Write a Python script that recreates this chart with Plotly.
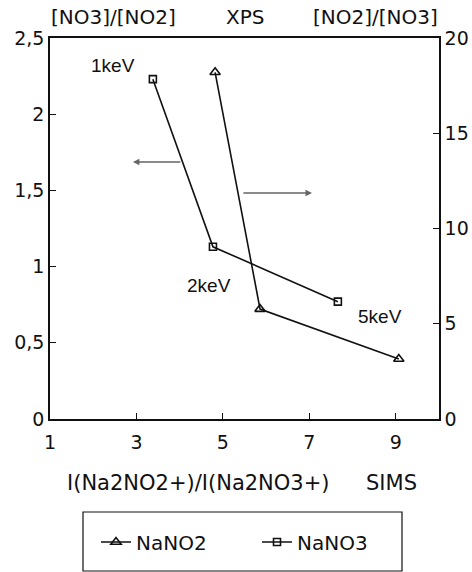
import plotly.graph_objects as go

# Data
nano3_x = [3.38, 4.77, 7.66]
nano3_y = [2.23, 1.13, 0.77]          # left axis [NO3]/[NO2]
nano2_x = [4.82, 5.86, 9.07]
nano2_y = [18.2, 5.77, 3.15]          # right axis [NO2]/[NO3]

x_tickvals = [1, 3, 5, 7, 9]
x_ticktext = ["1", "3", "5", "7", "9"]
left_tickvals = [0, 0.5, 1, 1.5, 2, 2.5]
left_ticktext = ["0", "0,5", "1", "1,5", "2", "2,5"]
right_tickvals = [0, 5, 10, 15, 20]
right_ticktext = ["0", "5", "10", "15", "20"]

energy_labels = ["1keV", "2keV", "5keV"]
energy_x = [2.46, 4.68, 8.64]
energy_y = [2.32, 0.873, 0.67]

FONT = "DejaVu Sans"
BLACK = "#111111"

fig = go.Figure()
fig.add_trace(go.Scatter(
    x=nano2_x, y=nano2_y, yaxis="y2", name="NaNO2", mode="lines+markers",
    line=dict(color=BLACK, width=1.6),
    marker=dict(symbol="triangle-up-open", size=9, color=BLACK, line=dict(width=1.6)),
))
fig.add_trace(go.Scatter(
    x=nano3_x, y=nano3_y, name="NaNO3", mode="lines+markers",
    line=dict(color=BLACK, width=1.6),
    marker=dict(symbol="square-open", size=7, color=BLACK, line=dict(width=1.6)),
))

annotations = []
for t, xx, yy in zip(energy_labels, energy_x, energy_y):
    annotations.append(dict(x=xx, y=yy, xref="x", yref="y", text=t, showarrow=False,
                            font=dict(family="Liberation Sans", size=19, color=BLACK)))

# arrows indicating axes
annotations.append(dict(x=2.92, y=1.686, ax=4.05, ay=1.686, xref="x", yref="y",
                        axref="x", ayref="y", text="", showarrow=True,
                        arrowhead=2, arrowsize=0.8, arrowwidth=1.6, arrowcolor="#666666"))
annotations.append(dict(x=7.06, y=1.483, ax=5.44, ay=1.483, xref="x", yref="y",
                        axref="x", ayref="y", text="", showarrow=True,
                        arrowhead=2, arrowsize=0.8, arrowwidth=1.6, arrowcolor="#666666"))

# top labels
for t, px in [("[NO3]/[NO2]", 113), ("XPS", 245), ("[NO2]/[NO3]", 375)]:
    annotations.append(dict(x=(px - 50) / 389, y=1 + (38 - 17) / 381, xref="paper", yref="paper",
                            text=t, showarrow=False, xanchor="center", yanchor="middle",
                            font=dict(family=FONT, size=20, color=BLACK)))
# bottom labels
for t, px in [("I(Na2NO2+)/I(Na2NO3+)", 198), ("SIMS", 391)]:
    annotations.append(dict(x=(px - 50) / 389, y=(419 - 483) / 381, xref="paper", yref="paper",
                            text=t, showarrow=False, xanchor="center", yanchor="middle",
                            font=dict(family=FONT, size=21, color=BLACK)))

shapes = [dict(type="rect", xref="paper", yref="paper",
               x0=(83 - 50) / 389, x1=(402 - 50) / 389,
               y0=(419 - 512) / 381, y1=(419 - 571) / 381,
               line=dict(color=BLACK, width=1.2))]

fig.update_layout(
    width=472, height=572,
    margin=dict(l=50, r=33, t=38, b=153, pad=0, autoexpand=False),
    paper_bgcolor="white", plot_bgcolor="white",
    font=dict(family=FONT, size=18, color=BLACK),
    showlegend=True,
    legend=dict(orientation="h", x=(96 - 50) / 389, y=(419 - 542) / 381,
                xanchor="left", yanchor="middle",
                font=dict(family=FONT, size=20, color=BLACK),
                entrywidth=116, entrywidthmode="pixels",
                bgcolor="rgba(0,0,0,0)", borderwidth=0),
    xaxis=dict(range=[1, 10], tickvals=x_tickvals, ticktext=x_ticktext,
               ticks="inside", ticklen=6, tickcolor=BLACK, ticklabelstandoff=5,
               showline=True, linecolor=BLACK, linewidth=1.6, mirror=True,
               showgrid=False, zeroline=False, tickfont=dict(size=19)),
    yaxis=dict(range=[0, 2.5], tickvals=left_tickvals, ticktext=left_ticktext,
               ticks="inside", ticklen=6, tickcolor=BLACK,
               showline=True, linecolor=BLACK, linewidth=1.6,
               showgrid=False, zeroline=False, tickfont=dict(size=19)),
    yaxis2=dict(range=[0, 20], tickvals=right_tickvals, ticktext=right_ticktext,
                overlaying="y", side="right",
                ticks="inside", ticklen=6, tickcolor=BLACK,
                showline=True, linecolor=BLACK, linewidth=1.6,
                showgrid=False, zeroline=False, tickfont=dict(size=19)),
    annotations=annotations,
    shapes=shapes,
)

fig.write_html("out.html")
